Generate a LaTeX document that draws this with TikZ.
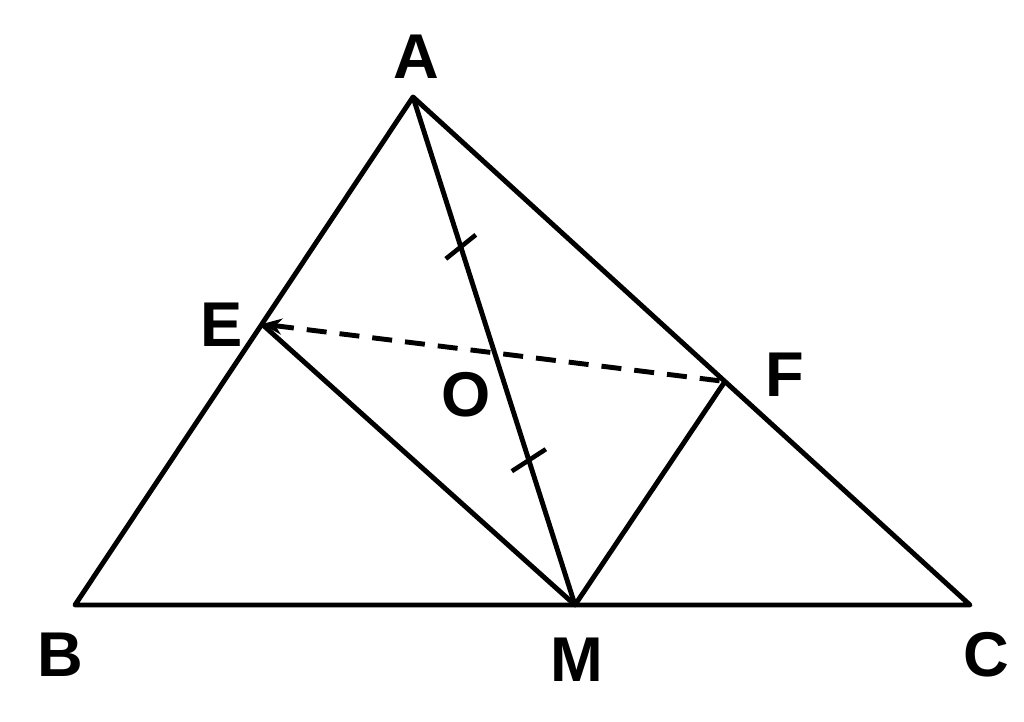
\documentclass[tikz,border=0pt]{standalone}
\usepackage{fontspec}
\setmainfont{Liberation Sans}
\usetikzlibrary{calc,arrows.meta}
\begin{document}
\begin{tikzpicture}[line width=1.4pt, line join=round,
	lbl/.style={font=\fontsize{18}{20}\selectfont\bfseries, inner sep=0pt},
	tickmark/.style={line width=1.3pt}]
	\useasboundingbox (0,0) rectangle (10.24,7.22);
	\coordinate (A) at (4.13,6.25);
	\coordinate (B) at (0.75,1.17);
	\coordinate (C) at (9.70,1.17);
	\coordinate (M) at (5.75,1.17);
	\coordinate (E) at ($(B)!0.553!(A)$);
	\coordinate (F) at ($(C)!0.44!(A)$);
	\coordinate (O) at ($(A)!0.5!(M)$);
	\draw (A) -- (B) -- (C) -- cycle;
	\draw (A) -- (M);
	\draw (E) -- (M) -- (F);
	\draw [dashed, dash pattern=on 2mm off 1.3mm, {Stealth[length=2mm,width=1.6mm]}-] (E) -- (F);
	% tick marks
	\coordinate (T1) at ($(A)!0.59!(O)$);
	\coordinate (T2) at ($(O)!0.43!(M)$);
	\draw [tickmark] ($(T1)+(-0.15,-0.12)$) -- ($(T1)+(0.15,0.12)$);
	\draw [tickmark] ($(T2)+(-0.17,-0.11)$) -- ($(T2)+(0.17,0.11)$);
	% labels
	\node [lbl] (lA) at (4.16,6.65) {A};
	\node [lbl] (lB) at (0.60,0.67) {B};
	\node [lbl] (lC) at (9.86,0.67) {C};
	\node [lbl] (lM) at (5.77,0.62) {M};
	\node [lbl] (lE) at (2.22,3.97) {E};
	\node [lbl] (lF) at (7.85,3.47) {F};
	\node [lbl] (lO) at (4.66,3.27) {O};
\end{tikzpicture}
\end{document}
